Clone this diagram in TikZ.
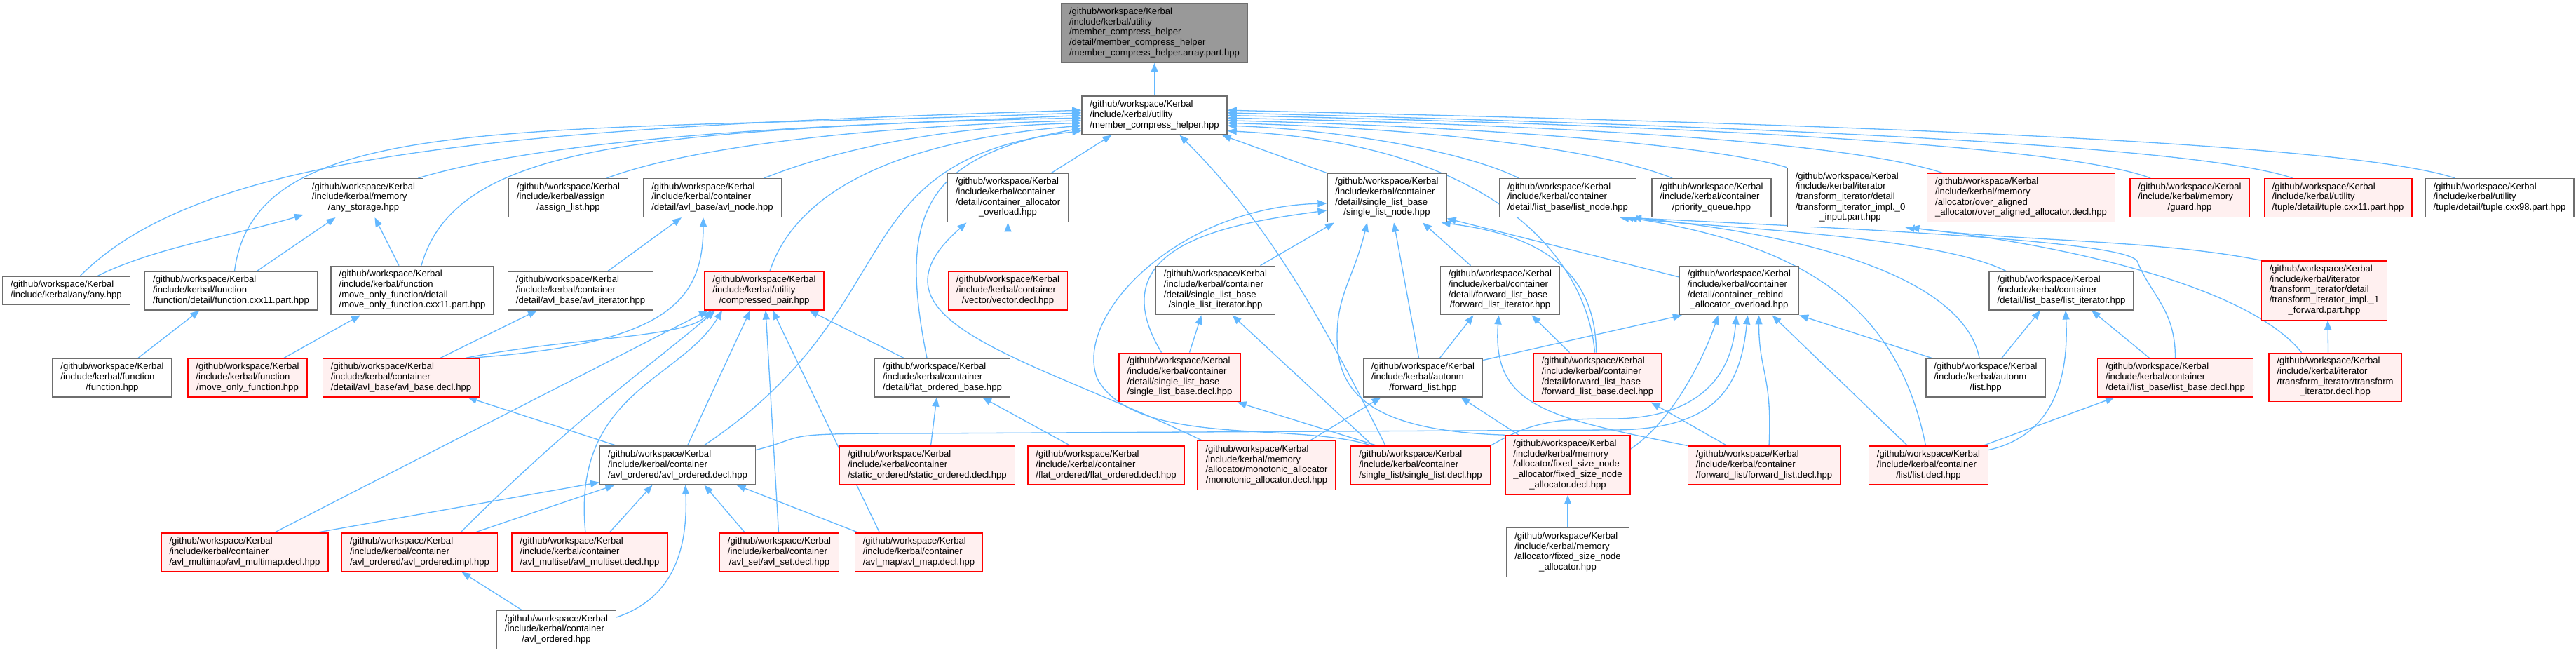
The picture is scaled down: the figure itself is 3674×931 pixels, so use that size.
\documentclass[tikz,border=0pt]{standalone}
\usepackage{fontspec}
\setmainfont{Liberation Sans}
\usetikzlibrary{arrows.meta}
\definecolor{edgeblue}{RGB}{99,184,255}
\definecolor{boxgray}{RGB}{110,110,110}
\definecolor{topgray}{RGB}{153,153,153}
\definecolor{truncfill}{RGB}{255,240,240}
\pgfdeclarelayer{background}
\pgfsetlayers{background,main}
\newcommand{\gw}{/github/workspace/Kerbal}
\newcommand{\fpath}[2]{\begin{tabular}{@{}l@{}}\gw\\#1\\\multicolumn{1}{@{}c@{}}{#2}\end{tabular}}
\tikzset{
  file/.style={draw=boxgray, fill=white, line width=1.3pt, inner xsep=11.5pt, inner ysep=5.4pt,
    font=\fontsize{13.1pt}{14.7pt}\selectfont},
  trunc/.style={file, draw=red, fill=truncfill},
  self/.style={file, fill=topgray},
  inc/.style={draw=edgeblue, line width=1.3pt, -{Triangle[length=13pt,width=10pt]}}
}
\begin{document}
\begin{tikzpicture}[x=1pt, y=-1pt]
  \useasboundingbox (0,0) rectangle (3674,931);
  % the file itself and its direct includer
  \node[self] (top) at (1646.5,47) {\fpath{/include/kerbal/utility\\/member\_compress\_helper\\/detail/member\_compress\_helper}{/member\_compress\_helper.array.part.hpp}};
  \node[file] (mch) at (1646.5,164.5) {\fpath{/include/kerbal/utility}{/member\_compress\_helper.hpp}};
  % row 2
  \node[file] (anystor) at (518.5,282) {\fpath{/include/kerbal/memory}{/any\_storage.hpp}};
  \node[file] (assign) at (810.5,282) {\fpath{/include/kerbal/assign}{/assign\_list.hpp}};
  \node[file] (avlnode) at (1016,282) {\fpath{/include/kerbal/container}{/detail/avl\_base/avl\_node.hpp}};
  \node[file] (cao) at (1437.5,282) {\fpath{/include/kerbal/container\\/detail/container\_allocator}{\_overload.hpp}};
  \node[file] (slnode) at (1978,282) {\fpath{/include/kerbal/container\\/detail/single\_list\_base}{/single\_list\_node.hpp}};
  \node[file] (listnode) at (2236,282) {\fpath{/include/kerbal/container}{/detail/list\_base/list\_node.hpp}};
  \node[file] (prio) at (2441,282) {\fpath{/include/kerbal/container}{/priority\_queue.hpp}};
  \node[file] (ti0) at (2639,281.5) {\fpath{/include/kerbal/iterator\\/transform\_iterator/detail\\/transform\_iterator\_impl.\_0}{\_input.part.hpp}};
  \node[trunc] (over) at (2882.5,282) {\fpath{/include/kerbal/memory\\/allocator/over\_aligned}{\_allocator/over\_aligned\_allocator.decl.hpp}};
  \node[trunc] (guard) at (3123,282) {\fpath{/include/kerbal/memory}{/guard.hpp}};
  \node[trunc] (cxx11) at (3334.5,282) {\fpath{/include/kerbal/utility}{/tuple/detail/tuple.cxx11.part.hpp}};
  \node[file] (cxx98) at (3565,282) {\fpath{/include/kerbal/utility}{/tuple/detail/tuple.cxx98.part.hpp}};
  % row 3
  \node[file] (any) at (94.5,414) {\begin{tabular}{@{}l@{}}\gw\\/include/kerbal/any/any.hpp\end{tabular}};
  \node[file] (fcxx) at (329.5,414.5) {\fpath{/include/kerbal/function}{/function/detail/function.cxx11.part.hpp}};
  \node[file] (mocxx) at (588,414) {\fpath{/include/kerbal/function\\/move\_only\_function/detail}{/move\_only\_function.cxx11.part.hpp}};
  \node[file] (avliter) at (828,414.5) {\fpath{/include/kerbal/container}{/detail/avl\_base/avl\_iterator.hpp}};
  \node[trunc] (cpair) at (1090,414.5) {\fpath{/include/kerbal/utility}{/compressed\_pair.hpp}};
  \node[trunc] (vector) at (1437.5,414.5) {\fpath{/include/kerbal/container}{/vector/vector.decl.hpp}};
  \node[file] (sliter) at (1733.5,414) {\fpath{/include/kerbal/container\\/detail/single\_list\_base}{/single\_list\_iterator.hpp}};
  \node[file] (fliter) at (2139.5,414) {\fpath{/include/kerbal/container\\/detail/forward\_list\_base}{/forward\_list\_iterator.hpp}};
  \node[file] (crao) at (2480.5,414) {\fpath{/include/kerbal/container\\/detail/container\_rebind}{\_allocator\_overload.hpp}};
  \node[file] (listiter) at (2940,414.5) {\fpath{/include/kerbal/container}{/detail/list\_base/list\_iterator.hpp}};
  \node[trunc] (ti1) at (3315,414) {\fpath{/include/kerbal/iterator\\/transform\_iterator/detail\\/transform\_iterator\_impl.\_1}{\_forward.part.hpp}};
  % row 4
  \node[file] (function) at (160,538.5) {\fpath{/include/kerbal/function}{/function.hpp}};
  \node[trunc] (mof) at (353,538.5) {\fpath{/include/kerbal/function}{/move\_only\_function.hpp}};
  \node[trunc] (avlbase) at (572,538.5) {\fpath{/include/kerbal/container}{/detail/avl\_base/avl\_base.decl.hpp}};
  \node[file] (flatbase) at (1344,538.5) {\fpath{/include/kerbal/container}{/detail/flat\_ordered\_base.hpp}};
  \node[trunc] (slbase) at (1682.5,538) {\fpath{/include/kerbal/container\\/detail/single\_list\_base}{/single\_list\_base.decl.hpp}};
  \node[file] (afl) at (2029.5,538.5) {\fpath{/include/kerbal/autonm}{/forward\_list.hpp}};
  \node[trunc] (flbase) at (2278.5,538) {\fpath{/include/kerbal/container\\/detail/forward\_list\_base}{/forward\_list\_base.decl.hpp}};
  \node[file] (alist) at (2832,538.5) {\fpath{/include/kerbal/autonm}{/list.hpp}};
  \node[trunc] (listbase) at (3102.5,538.5) {\fpath{/include/kerbal/container}{/detail/list\_base/list\_base.decl.hpp}};
  \node[trunc] (tidecl) at (3330.5,538) {\fpath{/include/kerbal/iterator\\/transform\_iterator/transform}{\_iterator.decl.hpp}};
  % row 5
  \node[file] (avldecl) at (966.5,663.5) {\fpath{/include/kerbal/container}{/avl\_ordered/avl\_ordered.decl.hpp}};
  \node[trunc] (statdecl) at (1322.5,663.5) {\fpath{/include/kerbal/container}{/static\_ordered/static\_ordered.decl.hpp}};
  \node[trunc] (flatdecl) at (1577.5,663.5) {\fpath{/include/kerbal/container}{/flat\_ordered/flat\_ordered.decl.hpp}};
  \node[trunc] (mono) at (1806.5,663.5) {\fpath{/include/kerbal/memory\\/allocator/monotonic\_allocator}{/monotonic\_allocator.decl.hpp}};
  \node[trunc] (sldecl) at (2026,663.5) {\fpath{/include/kerbal/container}{/single\_list/single\_list.decl.hpp}};
  \node[trunc] (fsnadecl) at (2236,663) {\fpath{/include/kerbal/memory\\/allocator/fixed\_size\_node\\\_allocator/fixed\_size\_node}{\_allocator.decl.hpp}};
  \node[trunc] (fldecl) at (2516,663.5) {\fpath{/include/kerbal/container}{/forward\_list/forward\_list.decl.hpp}};
  \node[trunc] (listdecl) at (2750.5,663.5) {\fpath{/include/kerbal/container}{/list/list.decl.hpp}};
  % row 6 and 7
  \node[trunc] (avlmmap) at (349,787.5) {\fpath{/include/kerbal/container}{/avl\_multimap/avl\_multimap.decl.hpp}};
  \node[trunc] (avlimpl) at (598.5,787.5) {\fpath{/include/kerbal/container}{/avl\_ordered/avl\_ordered.impl.hpp}};
  \node[trunc] (avlmset) at (841,787.5) {\fpath{/include/kerbal/container}{/avl\_multiset/avl\_multiset.decl.hpp}};
  \node[trunc] (avlset) at (1111.5,787.5) {\fpath{/include/kerbal/container}{/avl\_set/avl\_set.decl.hpp}};
  \node[trunc] (avlmap) at (1310.5,787.5) {\fpath{/include/kerbal/container}{/avl\_map/avl\_map.decl.hpp}};
  \node[file] (fsna) at (2236,787.5) {\fpath{/include/kerbal/memory\\/allocator/fixed\_size\_node}{\_allocator.hpp}};
  \node[file] (avlord) at (793.5,898) {\fpath{/include/kerbal/container}{/avl\_ordered.hpp}};

  \begin{pgfonlayer}{background}
  \fill[white] (0,0) rectangle (3674,931);
  \draw[inc] (mch.north) -- (top.south);
  % into member_compress_helper from the left
  \draw[inc] ([xshift=20pt]any.north) .. controls +(170,-170) and +(-850,25) .. (mch.176);
  \draw[inc] ([xshift=5pt]fcxx.north) .. controls +(30,-230) and +(-800,30) .. (mch.178);
  \draw[inc] ([xshift=13pt]mocxx.north) .. controls +(50,-180) and +(-600,25) .. (mch.180);
  \draw[inc] ([xshift=78pt]anystor.north) .. controls +(150,-45) and +(-500,10) .. (mch.182);
  \draw[inc] ([xshift=55pt]assign.north) .. controls +(120,-45) and +(-300,8) .. (mch.184);
  \draw[inc] ([xshift=74pt]avlnode.north) .. controls +(100,-40) and +(-200,5) .. (mch.186);
  \draw[inc] ([xshift=8pt]cpair.north) .. controls +(40,-120) and +(-250,20) .. (mch.188);
  \draw[inc] ([xshift=-22pt]flatbase.north) .. controls +(-40,-200) and +(-230,40) .. (mch.190);
  \draw[inc] ([xshift=37pt]avldecl.north) .. controls +(300,-200) and +(-350,40) .. (mch.192);
  % from below and from the right
  \draw[inc] ([xshift=62pt]cao.north) -- ([xshift=-61pt]mch.south);
  \draw[inc] ([xshift=-50pt]sldecl.north) .. controls +(-100,-200) and +(120,120) .. ([xshift=36pt]mch.south);
  \draw[inc] (slnode.north west) -- ([xshift=-8pt]mch.south east);
  \draw[inc] ([xshift=-4pt]flbase.north) .. controls +(-10,-120) and +(400,20) .. (mch.348);
  \draw[inc] ([xshift=-64pt]cxx98.north) .. controls +(-150,-50) and +(900,20) .. (mch.4);
  \draw[inc] ([xshift=-65pt]cxx11.north) .. controls +(-130,-45) and +(800,20) .. (mch.2);
  \draw[inc] ([xshift=-56pt]guard.north) .. controls +(-120,-45) and +(700,15) .. (mch.0);
  \draw[inc] ([xshift=-112pt]over.north) .. controls +(-120,-40) and +(550,12) .. (mch.358);
  \draw[inc] (ti0.north west) .. controls +(-100,-30) and +(400,10) .. (mch.356);
  \draw[inc] ([xshift=-56pt]prio.north) .. controls +(-100,-40) and +(300,8) .. (mch.354);
  \draw[inc] ([xshift=-70pt]listnode.north) .. controls +(-80,-40) and +(150,5) .. (mch.352);
  % any / function
  \draw[inc] ([xshift=45pt]any.north) .. controls +(80,-40) and +(-100,30) .. ([yshift=4pt]anystor.south west);
  \draw[inc] ([xshift=37pt]fcxx.north) -- ([xshift=-40pt]anystor.south);
  \draw[inc] ([xshift=-19pt]mocxx.north) -- ([xshift=16pt]anystor.south);
  \draw[inc] ([xshift=37pt]function.north) -- ([xshift=-45pt]fcxx.south);
  \draw[inc] ([xshift=52pt]mof.north) -- ([xshift=-74pt]mocxx.south);
  % avl
  \draw[inc] ([xshift=39pt]avliter.north) -- ([xshift=-44pt]avlnode.south);
  \draw[inc] ([xshift=99pt]avlbase.north) .. controls +(280,-20) and +(0,120) .. ([xshift=-13pt]avlnode.south);
  \draw[inc] ([xshift=56pt]avlbase.north) -- ([xshift=-62pt]avliter.south);
  \draw[inc] ([xshift=92pt]avlbase.north) .. controls +(150,-30) and +(-40,40) .. ([xshift=-75pt]cpair.south);
  \draw[inc] ([xshift=58pt]avlimpl.north) .. controls +(170,-170) and +(-80,70) .. ([xshift=-70pt]cpair.south);
  \draw[inc] ([xshift=-6pt]avlmset.north) .. controls +(-20,-200) and +(-60,100) .. ([xshift=-60pt]cpair.south);
  \draw[inc] ([xshift=14pt]avldecl.north) -- ([xshift=-20pt]cpair.south);
  \draw[inc] ([xshift=-1pt]avlset.north) -- ([xshift=2pt]cpair.south);
  \draw[inc] ([xshift=-56pt]avlmap.north) -- ([xshift=12pt]cpair.south);
  \draw[inc] ([xshift=42pt]avlmmap.north) -- ([xshift=-80pt]cpair.south);
  \draw[inc] ([xshift=-55pt]flatbase.north) -- ([xshift=64pt]cpair.south);
  \draw[inc] ([xshift=-87pt]avldecl.north) -- ([xshift=95pt]avlbase.south);
  \draw[inc] ([xshift=102pt]avlmmap.north) -- ([yshift=4pt]avldecl.south west);
  \draw[inc] ([xshift=78pt]avlimpl.north) -- ([xshift=-90pt]avldecl.south);
  \draw[inc] ([xshift=28pt]avlmset.north) -- ([xshift=-36pt]avldecl.south);
  \draw[inc] ([yshift=18pt]avlord.east) .. controls +(60,-20) and +(5,120) .. ([xshift=11pt]avldecl.south);
  \draw[inc] ([xshift=-49pt]avlset.north) -- ([xshift=38pt]avldecl.south);
  \draw[inc] ([xshift=-86pt]avlmap.north) -- ([xshift=84pt]avldecl.south);
  \draw[inc] ([xshift=-49pt]avlord.north) -- ([xshift=60pt]avlimpl.south);
  % flat ordered
  \draw[inc] ([xshift=5pt]statdecl.north) -- ([xshift=-8pt]flatbase.south);
  \draw[inc] ([xshift=-51pt]flatdecl.north) -- ([xshift=57pt]flatbase.south);
  % allocator overload
  \draw[inc] (vector.north) -- (cao.south);
  \draw[inc] ([xshift=-92pt]mono.north) .. controls +(-250,-120) and +(-160,140) .. ([xshift=-59pt]cao.south);
  % single list
  \draw[inc] ([xshift=64pt]sliter.north) -- ([xshift=-75pt]slnode.south);
  \draw[inc] ([xshift=14pt]slbase.north) -- ([xshift=-20pt]sliter.south);
  \draw[inc] ([xshift=-26pt]slbase.north) .. controls +(-90,-150) and +(-150,20) .. ([yshift=-18pt]slnode.west);
  \draw[inc] ([xshift=-70pt]sldecl.north) .. controls (1850,600) and (1620,640) .. (1565,540)
    .. controls (1530,450) and (1680,295) .. ([yshift=-8pt]slnode.west);
  \draw[inc] ([xshift=-62pt]sldecl.north) -- ([xshift=-5pt]slbase.south east);
  \draw[inc] ([xshift=-68pt]sldecl.north) -- ([xshift=24pt]sliter.south);
  \draw[inc] (fsnadecl.north west) .. controls +(-200,-6) and +(0,75) .. (1907,480)
    .. controls +(0,-60) and +(-20,80) .. ([xshift=-28pt]slnode.south);
  \draw[inc] ([xshift=-6pt]afl.north) -- ([xshift=10pt]slnode.south);
  \draw[inc] ([xshift=-42pt]fliter.north) -- ([xshift=51pt]slnode.south);
  \draw[inc] ([xshift=-2pt]flbase.north) .. controls +(0,-130) and +(120,15) .. ([xshift=-8pt]slnode.south east);
  \draw[inc] ([yshift=19pt]crao.west) -- ([yshift=6pt]slnode.south east);
  % forward list
  \draw[inc] ([xshift=-40pt]flbase.north) -- ([xshift=45pt]fliter.south);
  \draw[inc] ([xshift=24pt]afl.north) -- ([xshift=-38pt]fliter.south);
  \draw[inc] (fldecl.north west) .. controls +(-200,-40) and +(-10,130) .. ([xshift=-2pt]fliter.south);
  \draw[inc] ([xshift=62pt]mono.north) -- ([xshift=-60pt]afl.south);
  \draw[inc] ([xshift=-70pt]fsnadecl.north) -- ([xshift=54pt]afl.south);
  \draw[inc] (fsna.north) -- (fsnadecl.south);
  \draw[inc] ([xshift=-53pt]fldecl.north) -- ([xshift=76pt]flbase.south);
  % container rebind
  \draw[inc] ([yshift=25pt]afl.east) -- ([xshift=4pt]crao.south west);
  \draw[inc] ([yshift=23pt]fsnadecl.east) .. controls +(60,-40) and +(-20,60) .. ([xshift=-30pt]crao.south);
  \draw[inc] (sldecl.north east) .. controls +(60,-35) and +(-80,0) .. (2300,597)
    .. controls +(80,0) and +(-10,120) .. ([xshift=-4pt]crao.south);
  \draw[inc] ([yshift=22pt]avldecl.east) .. controls +(80,-20) and +(-200,0) .. (1300,618) -- (2300,613)
    .. controls +(150,0) and +(-10,100) .. ([xshift=12pt]crao.south);
  \draw[inc] ([xshift=7pt]fldecl.north) .. controls +(5,-100) and +(0,80) .. ([xshift=28pt]crao.south);
  \draw[inc] ([xshift=-30pt]listdecl.north) -- ([xshift=47pt]crao.south);
  \draw[inc] ([xshift=-77pt]alist.north) -- (crao.south east);
  % list
  \draw[inc] ([xshift=-79pt]listiter.north) .. controls +(-100,-50) and +(150,15) .. ([xshift=74pt]listnode.south);
  \draw[inc] (listbase.north) .. controls +(0,-70) and +(20,50) .. (3048,372)
    .. controls +(-20,-30) and +(300,15) .. ([xshift=80pt]listnode.south);
  \draw[inc] ([xshift=-4pt]listdecl.north) .. controls +(-40,-200) and +(250,40) .. ([xshift=86pt]listnode.south);
  \draw[inc] ([xshift=-9pt]alist.north) .. controls +(-20,-100) and +(300,30) .. ([xshift=92pt]listnode.south);
  \draw[inc] ([xshift=23pt]alist.north) -- ([xshift=-30pt]listiter.south);
  \draw[inc] ([yshift=22pt]listdecl.east) .. controls +(90,-20) and +(5,100) .. ([xshift=6pt]listiter.south);
  \draw[inc] ([xshift=-37pt]listbase.north) -- ([xshift=43pt]listiter.south);
  \draw[inc] ([xshift=-8pt]listdecl.north east) -- ([xshift=25pt]listbase.south west);
  % transform iterator
  \draw[inc] (ti1.north west) .. controls +(-150,-30) and +(150,20) .. ([xshift=-5pt]ti0.south east);
  \draw[inc] ([xshift=-48pt]tidecl.north) .. controls +(-80,-100) and +(200,20) .. ([xshift=-12pt]ti0.south east);
  \draw[inc] ([xshift=-10pt]tidecl.north) -- ([xshift=5pt]ti1.south);
  \end{pgfonlayer}
\end{tikzpicture}
\end{document}
